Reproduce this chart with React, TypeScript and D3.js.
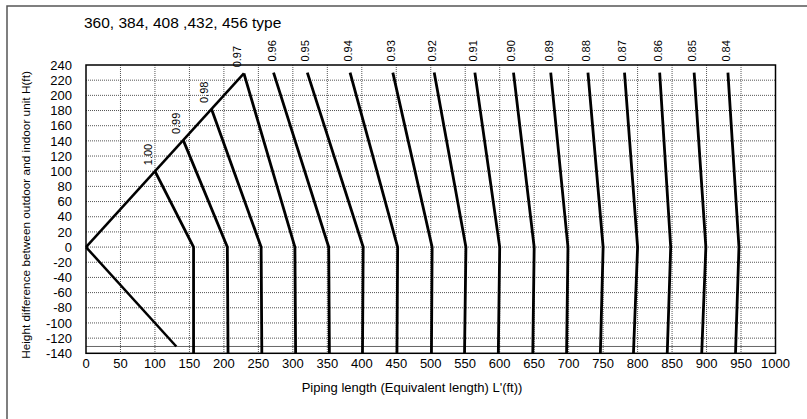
import React from "react";
import * as d3 from "d3";

// correction factor for each curve
const factors = [
  "1.00", "0.99", "0.98", "0.97", "0.96", "0.95", "0.94", "0.93", "0.92",
  "0.91", "0.90", "0.89", "0.88", "0.87", "0.86", "0.85", "0.84",
];
// top end of each curve (piping length, height)
const topL = [100, 141, 182, 229, 272, 321, 383, 445, 505, 564, 620, 674, 728, 781, 832, 882, 931];
const topH = [100, 141, 182, 229, 230, 230, 230, 230, 230, 230, 230, 230, 230, 230, 230, 230, 230];
// where each curve crosses H = 0
const kneeL = [156, 205, 254, 303, 352, 402, 452, 502, 551, 600, 650, 699, 750, 800, 848, 899, 947];
// where each curve reaches the bottom of the chart
const bottomL = [156, 206, 255, 304, 353, 401, 451, 501, 549, 598, 648, 697, 746, 794, 843, 893, 942];
const bottomH = -140;

// outdoor above / below limits
const upperLimit = [[0, 0], [229, 229]];
const lowerLimit = [[0, 0], [131, -131]];
const lowerH = -131;

const xTicks = d3.range(0, 1001, 50);
const yTicks = d3.range(-140, 241, 20);

const title = "360, 384, 408 ,432, 456 type";
const xTitle = "Piping length (Equivalent length) L'(ft))";
const yTitle = "Height difference between outdoor and indoor unit H(ft)";

const App = () => {
  const width = 807;
  const height = 419;
  const plot = { left: 86, right: 775.5, top: 65, bottom: 353.3 };
  const font = "'Liberation Sans', Arial, sans-serif";

  // define scales
  const x = d3.scaleLinear().domain([0, 1000]).range([plot.left, plot.right]);
  const y = d3.scaleLinear().domain([-140, 240]).range([plot.bottom, plot.top]);

  const line = d3
    .line<number[]>()
    .x((d) => x(d[0]))
    .y((d) => y(d[1]));

  const curves = factors.map((f, i) => ({
    label: f,
    points: [
      [topL[i], topH[i]],
      [kneeL[i], 0],
      [bottomL[i], bottomH],
    ],
  }));

  return (
    <svg
      width={width}
      height={height}
      style={{ position: "absolute", left: 0, top: 0, background: "#fff" }}
      fontFamily={font}
    >
      <rect x={0} y={0} width={width} height={height} fill="#fff" />
      {/* outer frame */}
      <rect x={7} y={6} width={820} height={430} fill="none" stroke="#555" strokeWidth={1.5} />

      <text x={84} y={28} fontSize={15.5} fill="#000">
        {title}
      </text>

      {/* grid */}
      <g stroke="#555" strokeWidth={1} strokeDasharray="1,1">
        {xTicks.slice(1, -1).map((t) => (
          <line key={`gx${t}`} x1={x(t)} x2={x(t)} y1={plot.top} y2={plot.bottom} />
        ))}
        {yTicks.slice(1, -1).map((t) => (
          <line key={`gy${t}`} x1={plot.left} x2={plot.right} y1={y(t)} y2={y(t)} />
        ))}
      </g>

      {/* lower limit line */}
      <line
        x1={plot.left}
        x2={plot.right}
        y1={y(lowerH)}
        y2={y(lowerH)}
        stroke="#666"
        strokeWidth={1}
      />

      {/* limit diagonals */}
      <path d={line(upperLimit) || ""} fill="none" stroke="#000" strokeWidth={2.5} />
      <path d={line(lowerLimit) || ""} fill="none" stroke="#000" strokeWidth={2.5} />

      {/* correction curves */}
      {curves.map((c) => (
        <path
          key={c.label}
          d={line(c.points) || ""}
          fill="none"
          stroke="#000"
          strokeWidth={2.8}
        />
      ))}

      {/* curve labels */}
      {curves.map((c) => {
        const onDiag = c.points[0][1] < 230;
        const px = x(c.points[0][0]) + (onDiag ? -7 : -2);
        const py = y(c.points[0][1]) + (onDiag ? -6 : -11);
        return (
          <text
            key={`l${c.label}`}
            transform={`translate(${px + 4}, ${py}) rotate(-90)`}
            fontSize={11}
            textAnchor="start"
            fill="#000"
          >
            {c.label}
          </text>
        );
      })}

      {/* plot border */}
      <rect
        x={plot.left}
        y={plot.top}
        width={plot.right - plot.left}
        height={plot.bottom - plot.top}
        fill="none"
        stroke="#000"
        strokeWidth={1.5}
      />

      {/* axes labels */}
      {xTicks.map((t) => (
        <text key={`tx${t}`} x={x(t)} y={368} fontSize={13} textAnchor="middle" fill="#000">
          {t}
        </text>
      ))}
      {yTicks.map((t) => (
        <text key={`ty${t}`} x={72} y={y(t)} dy="0.36em" fontSize={13} textAnchor="end" fill="#000">
          {t}
        </text>
      ))}

      <text x={412} y={392} fontSize={13} textAnchor="middle" fill="#000">
        {xTitle}
      </text>
      <text
        transform={`translate(30, 215) rotate(-90)`}
        fontSize={11.8}
        textAnchor="middle"
        fill="#000"
      >
        {yTitle}
      </text>
    </svg>
  );
};

export default App;
